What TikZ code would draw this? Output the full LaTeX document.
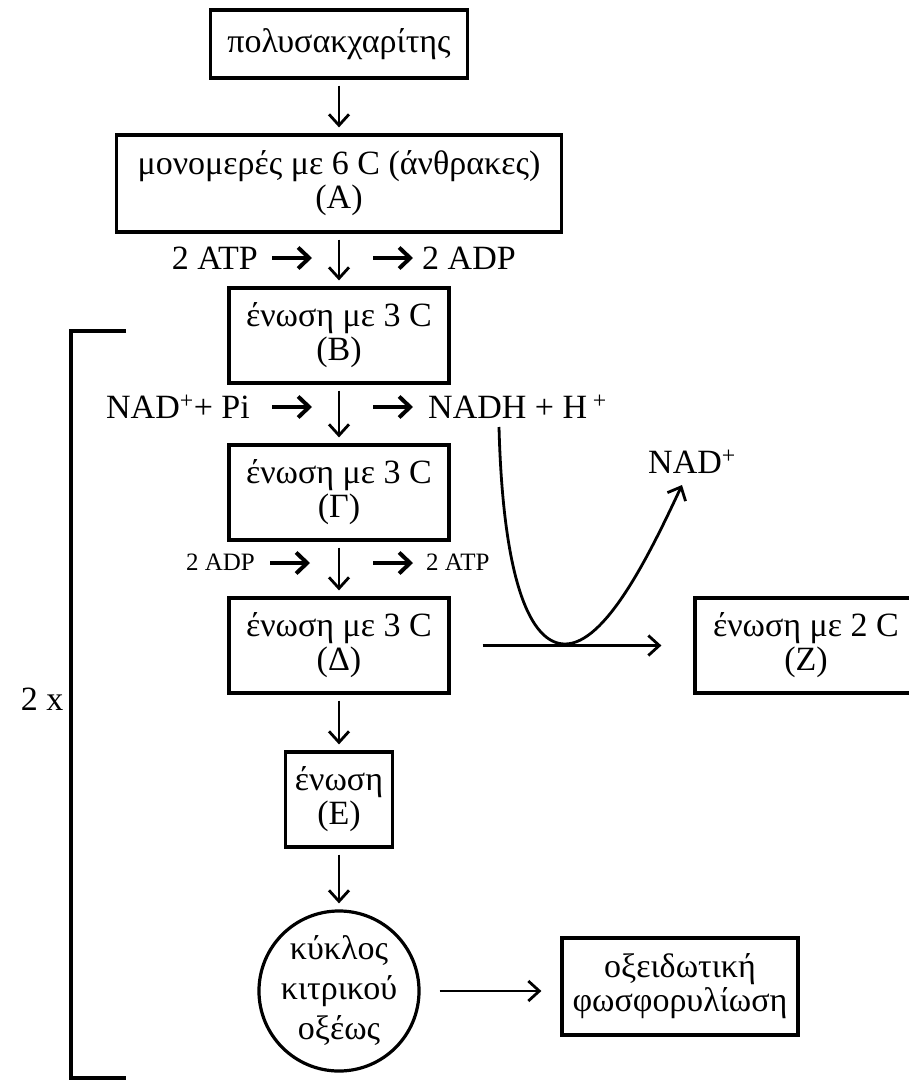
\documentclass[tikz,border=0pt]{standalone}
\usepackage{fontspec}
\setmainfont{Liberation Serif}
\usetikzlibrary{arrows.meta,calc}
\begin{document}
\begin{tikzpicture}[x=1pt,y=-1pt
,pbox/.style={draw,line width=3.2pt,inner sep=0pt,align=center,font=\fontsize{34}{34}\selectfont}
,pcircle/.style={pbox,circle,minimum size=158pt,font=\fontsize{34}{40}\selectfont}
,ptext/.style={inner sep=0pt,font=\fontsize{34}{34}\selectfont}
,psmall/.style={inner sep=0pt,font=\fontsize{25}{25}\selectfont}
,pflow/.style={line width=2.8pt,shorten <=6pt,shorten >=6pt,-{Straight Barb[length=11pt,width=20pt]}}
,pside/.style={line width=4pt,-{Straight Barb[length=11pt,width=21pt]}}
,pline/.style={line width=3.6pt}
]
\useasboundingbox (0,0) rectangle (908,1090);
\node[pbox,minimum width=257pt,minimum height=68pt] (poly) at (339,44) {πολυσακχαρίτης};
\node[pbox,minimum width=445pt,minimum height=97pt] (monomer) at (339,183.5) {μονομερές με 6 C (άνθρακες)\\(A)};
\node[pbox,minimum width=220pt,minimum height=95pt] (compB) at (339,335.5) {ένωση με 3 C\\(B)};
\node[pbox,minimum width=220pt,minimum height=95pt] (compG) at (339,492.5) {ένωση με 3 C\\(Γ)};
\node[pbox,minimum width=220pt,minimum height=95pt] (compD) at (339,645.5) {ένωση με 3 C\\(Δ)};
\node[pbox,minimum width=107pt,minimum height=95pt] (compE) at (339,799.5) {ένωση\\(E)};
\node[pcircle] (krebs) at (339,991) {κύκλος\\κιτρικού\\οξέως};
\node[pbox,minimum width=236pt,minimum height=97pt] (oxphos) at (680,986.5) {οξειδωτική\\φωσφορυλίωση};
\node[pbox,minimum width=222pt,minimum height=95pt] (compZ) at (806,645.5) {ένωση με 2 C\\(Z)};
\node[ptext,anchor=base east] (atpin) at (258,269) {2 ATP};
\node[ptext,anchor=base west] (adpout) at (422,269) {2 ADP};
\node[ptext,anchor=base east] (nadin) at (250,418) {NAD\textsuperscript{+}+ Pi};
\node[ptext,anchor=base west] (nadhout) at (428,418) {NADH + H\,\textsuperscript{+}};
\node[psmall,anchor=base east] (adpin) at (255,570) {2 ADP};
\node[psmall,anchor=base west] (atpout) at (426,570) {2 ATP};
\node[ptext,anchor=base west] (nadplus) at (648,473) {NAD\textsuperscript{+}};
\node[ptext,anchor=base] (twox) at (42,710) {2 x};
\coordinate (dip) at (565,644);
\draw[pflow] (poly) -- (monomer);
\draw[pflow] (monomer) -- (compB);
\draw[pflow] (compB) -- (compG);
\draw[pflow] (compG) -- (compD);
\draw[pflow] (compD) -- (compE);
\draw[pflow] (compE) -- (krebs);
\draw[pflow,shorten <=19pt,shorten >=19pt] (krebs) -- (krebs -| oxphos.west);
\draw[pflow,shorten <=32pt,shorten >=32pt] (compD) -- (compZ);
\draw[pside] ([xshift=14pt,yshift=11pt]atpin.base east) -- ++(40,0);
\draw[pside] ([xshift=-49pt,yshift=11pt]adpout.base west) -- ++(40,0);
\draw[pside] ([xshift=22pt,yshift=11pt]nadin.base east) -- ++(40,0);
\draw[pside] ([xshift=-55pt,yshift=11pt]nadhout.base west) -- ++(40,0);
\draw[pside] ([xshift=15pt,yshift=7pt]adpin.base east) -- ++(40,0);
\draw[pside] ([xshift=-53pt,yshift=7pt]atpout.base west) -- ++(40,0);
\draw[line width=2.8pt,-{Straight Barb[length=11pt,width=20pt]}] (499,427) .. controls (503,580) and (530,644) .. (dip) .. controls (605,644) and (648,558) .. (682,485);
\draw[pline] (126,331) -- (71,331) -- (71,1078) -- (126,1078);
\end{tikzpicture}
\end{document}
